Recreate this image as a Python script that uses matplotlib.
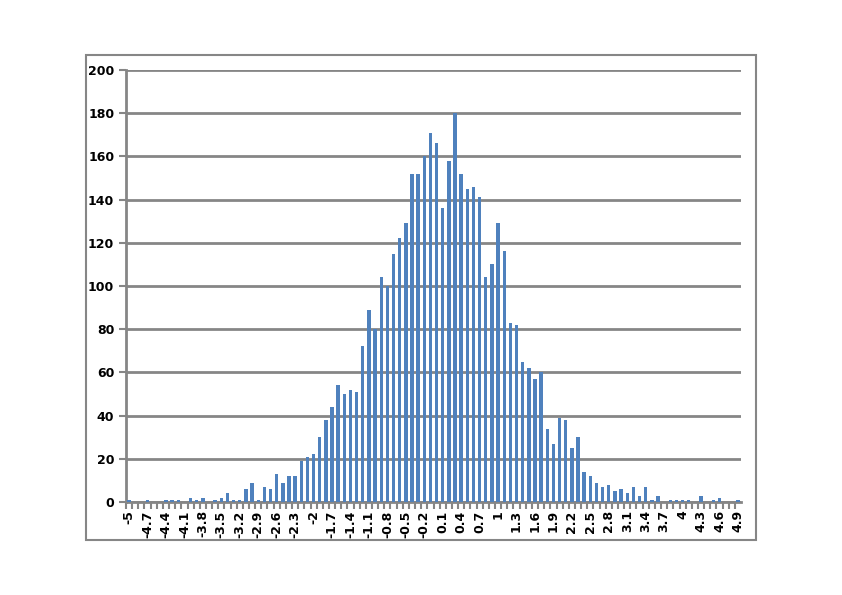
import numpy as np
import matplotlib

matplotlib.use("Agg")
from matplotlib import pyplot as plt
from matplotlib.patches import Rectangle

bins = [round(-5 + 0.1 * k, 1) for k in range(100)]
counts = [
    1, 0, 0, 1, 0, 0, 1, 1, 1, 0,
    2, 1, 2, 0, 1, 2, 4, 1, 1, 6,
    9, 1, 7, 6, 13, 9, 12, 12, 19, 21,
    22, 30, 38, 44, 54, 50, 52, 51, 72, 89,
    80, 104, 100, 115, 122, 129, 152, 152, 160, 171,
    166, 136, 158, 180, 152, 145, 146, 141, 104, 110,
    129, 116, 83, 82, 65, 62, 57, 60, 34, 27,
    39, 38, 25, 30, 14, 12, 9, 7, 8, 5,
    6, 4, 7, 3, 7, 1, 3, 0, 1, 1,
    1, 1, 0, 3, 0, 1, 2, 0, 0, 1,
]
tick_labels = [f"{v:g}" for v in bins]

grid_color = "#868686"

fig = plt.figure(figsize=(8.42, 5.95), dpi=100)
fig.patches.append(Rectangle((86 / 842, 55 / 595), 670 / 842, 485 / 595,
                             transform=fig.transFigure, fill=False,
                             edgecolor=grid_color, linewidth=1.5))
ax = fig.add_axes([126 / 842, 1 - 502 / 595, 615 / 842, 432 / 595])

x = np.arange(len(bins))
ax.bar(x, counts, width=0.55, color="#4F81BD", zorder=3)

ax.set_xlim(-0.5, len(bins) - 0.5)
ax.set_ylim(0, 200)
ax.set_yticks(range(0, 201, 20))
ax.yaxis.grid(True, color=grid_color, linewidth=2)
ax.set_axisbelow(True)

ax.set_xticks(x[::3])
ax.set_xticklabels(tick_labels[::3], rotation=90, fontsize=9, fontweight="bold")
ax.set_xticks(x - 0.5, minor=True)
ax.tick_params(axis="x", which="both", length=5, color=grid_color, width=1.5)
ax.tick_params(axis="x", which="major", length=0, pad=6)
ax.tick_params(axis="y", length=5, color=grid_color, width=1.5, labelsize=9)
for lbl in ax.get_yticklabels():
    lbl.set_fontweight("bold")

for side in ("top", "right"):
    ax.spines[side].set_visible(False)
ax.spines["left"].set_color(grid_color)
ax.spines["left"].set_linewidth(2)
ax.spines["bottom"].set_color(grid_color)
ax.spines["bottom"].set_linewidth(2)

fig.savefig("out.png", dpi=100)
